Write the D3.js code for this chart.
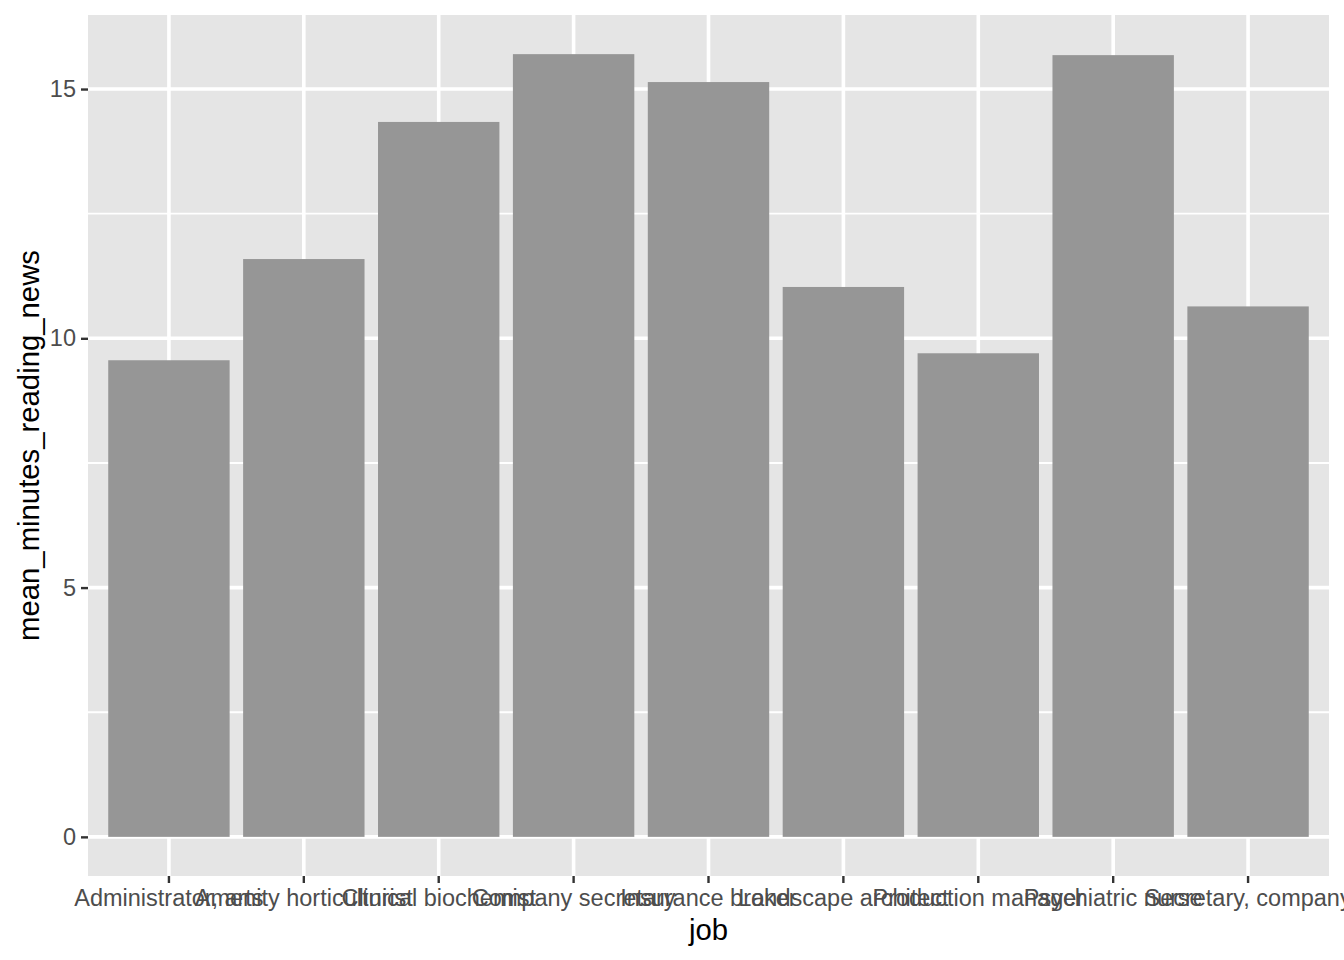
<!DOCTYPE html>
<html>
<head>
<meta charset="utf-8">
<script src="https://cdn.jsdelivr.net/npm/d3@7"></script>
<style>
  body { margin: 0; background: #fff; }
  svg { display: block; font-family: "Liberation Sans", Arial, Helvetica, sans-serif; }
</style>
</head>
<body>
<div id="chart"></div>
<script>
// categories and values
var jobs = [
  'Administrator, arts',
  'Amenity horticulturist',
  'Clinical biochemist',
  'Company secretary',
  'Insurance broker',
  'Landscape architect',
  'Production manager',
  'Psychiatric nurse',
  'Secretary, company'
];
var meanMinutes = [9.56, 11.59, 14.34, 15.70, 15.14, 11.03, 9.70, 15.68, 10.64];
var yTicks = [0, 5, 10, 15];
var yMinorTicks = [2.5, 7.5, 12.5];

var width = 1344;
var height = 960;

// panel area
var margin = { top: 15, right: 15, bottom: 84, left: 88 };
var w = width - margin.left - margin.right;
var h = height - margin.top - margin.bottom;

var data = jobs.map(function(d, i) {
  return { job: d, value: meanMinutes[i] };
});

var svg = d3.select('#chart').append('svg')
  .attr('width', width)
  .attr('height', height);

var g = svg.append('g')
  .attr('transform', 'translate(' + margin.left + ',' + margin.top + ')');

// ggplot style expansion: 5% on y, 0.6 units on discrete x
var maxV = d3.max(meanMinutes);
var y = d3.scaleLinear()
  .domain([-0.05 * maxV, 1.05 * maxV])
  .range([h, 0]);

var xc = d3.scaleLinear()
  .domain([0.4, jobs.length + 0.6])
  .range([0, w]);

// one step per category, bar = 0.9 of a step
var x = d3.scaleBand()
  .domain(jobs)
  .range([xc(0.5), xc(jobs.length + 0.5)])
  .paddingInner(0.1)
  .paddingOuter(0.05);

// panel background
g.append('rect')
  .attr('width', w)
  .attr('height', h)
  .attr('fill', '#e5e5e5');

// minor grid
g.selectAll('.minor').data(yMinorTicks).enter().append('line')
  .attr('x1', 0).attr('x2', w)
  .attr('y1', function(d) { return y(d); })
  .attr('y2', function(d) { return y(d); })
  .attr('stroke', '#fff').attr('stroke-width', 1.9);

// major grid
g.selectAll('.majorY').data(yTicks).enter().append('line')
  .attr('x1', 0).attr('x2', w)
  .attr('y1', function(d) { return y(d); })
  .attr('y2', function(d) { return y(d); })
  .attr('stroke', '#fff').attr('stroke-width', 3.6);

g.selectAll('.majorX').data(jobs).enter().append('line')
  .attr('y1', 0).attr('y2', h)
  .attr('x1', function(d) { return x(d) + x.bandwidth() / 2; })
  .attr('x2', function(d) { return x(d) + x.bandwidth() / 2; })
  .attr('stroke', '#fff').attr('stroke-width', 3.6);

// bars
g.selectAll('.bar').data(data).enter().append('rect')
  .attr('x', function(d) { return x(d.job); })
  .attr('width', x.bandwidth())
  .attr('y', function(d) { return y(d.value); })
  .attr('height', function(d) { return y(0) - y(d.value); })
  .attr('fill', '#969696');

// axes
var yAxis = g.append('g')
  .call(d3.axisLeft(y).tickValues(yTicks).tickSize(7).tickPadding(5).tickFormat(d3.format('d')));
var xAxis = g.append('g')
  .attr('transform', 'translate(0,' + h + ')')
  .call(d3.axisBottom(x).tickSize(7).tickPadding(5));

[yAxis, xAxis].forEach(function(a) {
  a.select('.domain').remove();
  a.selectAll('.tick line').attr('stroke', '#333').attr('stroke-width', 2.4);
  a.selectAll('.tick text')
    .attr('fill', '#4d4d4d')
    .style('font-size', '23.5px')
    .style('font-family', '"Liberation Sans", Arial, sans-serif');
});
xAxis.selectAll('.tick text').attr('dy', '0.76em');

// axis titles
svg.append('text')
  .attr('x', margin.left + w / 2)
  .attr('y', 940)
  .attr('text-anchor', 'middle')
  .style('font-size', '29.3px')
  .text('job');

svg.append('text')
  .attr('transform', 'translate(39,' + (margin.top + h / 2) + ') rotate(-90)')
  .attr('text-anchor', 'middle')
  .style('font-size', '29.3px')
  .text('mean_minutes_reading_news');
</script>
</body>
</html>
